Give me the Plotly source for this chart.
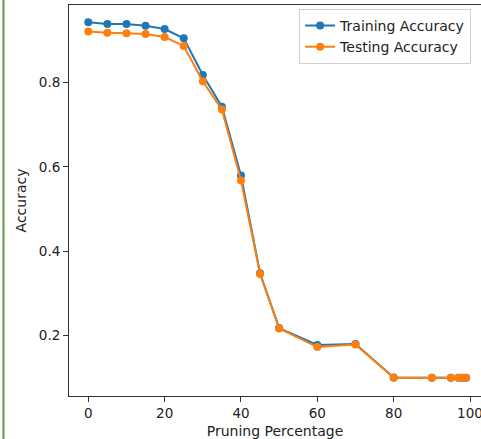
import plotly.graph_objects as go

pruning = [0, 5, 10, 15, 20, 25, 30, 35, 40, 45, 50, 60, 70, 80, 90, 95, 97, 98, 99]
train_acc = [0.943, 0.939, 0.939, 0.935, 0.927, 0.905, 0.818, 0.743, 0.580, 0.348,
             0.218, 0.178, 0.180, 0.101, 0.100, 0.100, 0.100, 0.100, 0.100]
test_acc = [0.921, 0.918, 0.917, 0.915, 0.908, 0.887, 0.803, 0.736, 0.568, 0.346,
            0.217, 0.173, 0.179, 0.100, 0.100, 0.100, 0.100, 0.100, 0.100]
x_ticks = [0, 20, 40, 60, 80, 100]
y_ticks = [0.2, 0.4, 0.6, 0.8]

FONT = "DejaVu Sans"

fig = go.Figure()
fig.add_trace(go.Scatter(x=pruning, y=train_acc, mode="lines+markers", name="Training Accuracy",
                         line=dict(color="#1f77b4", width=2), marker=dict(color="#1f77b4", size=8)))
fig.add_trace(go.Scatter(x=pruning, y=test_acc, mode="lines+markers", name="Testing Accuracy",
                         line=dict(color="#ff7f0e", width=2), marker=dict(color="#ff7f0e", size=8)))

fig.update_layout(
    width=481, height=439,
    margin=dict(l=69, r=0, t=5, b=43, pad=0, autoexpand=False),
    paper_bgcolor="white", plot_bgcolor="white",
    font=dict(family=FONT, size=14, color="#222"),
    showlegend=True,
    legend=dict(x=0.976, y=0.99, xanchor="right", yanchor="top",
                bgcolor="rgba(255,255,255,0.8)", bordercolor="#d0d0d0", borderwidth=1,
                font=dict(family=FONT, size=14, color="#222")),
    xaxis=dict(range=[-5.056, 102.88], tickvals=x_ticks, ticks="outside", ticklen=5,
               tickcolor="#333", showline=True, linecolor="#333", linewidth=1, mirror=True,
               showgrid=False, zeroline=False, tickfont=dict(size=13.5), automargin=False,
               ticklabeloverflow="allow",
               title=dict(text="Pruning Percentage", font=dict(size=14), standoff=6)),
    yaxis=dict(range=[0.057, 0.984], tickvals=y_ticks, tickformat=".1f", ticks="outside", ticklen=5,
               tickcolor="#333", showline=True, linecolor="#333", linewidth=1, mirror=False,
               showgrid=False, zeroline=False, tickfont=dict(size=13.5), automargin=False,
               title=dict(text="Accuracy", font=dict(size=14), standoff=8)),
    shapes=[dict(type="line", xref="paper", yref="paper",
                 x0=(3.5 - 69) / 412, x1=(3.5 - 69) / 412, y0=-0.2, y1=1.05,
                 line=dict(color="#5a9a3a", width=2))],
)

fig.write_html("out.html", config={"displayModeBar": False},
               post_script="document.body.style.margin='0px';document.body.style.overflow='hidden';")
